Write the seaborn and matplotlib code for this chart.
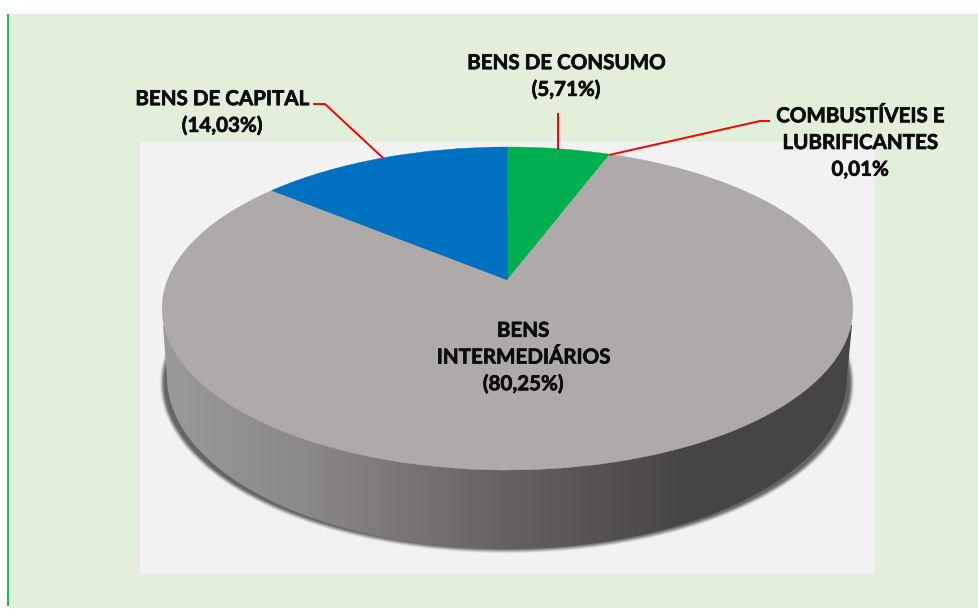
import numpy as np
import matplotlib
matplotlib.use("Agg")
import matplotlib.pyplot as plt
import matplotlib.patheffects as pe
import matplotlib.transforms as mtransforms
from matplotlib.colors import LinearSegmentedColormap, to_rgb
from matplotlib.patches import PathPatch, Rectangle
from matplotlib.path import Path
import seaborn as sns

# ---- data -------------------------------------------------------------
categories = ["BENS DE CONSUMO", "COMBUSTÍVEIS E LUBRIFICANTES",
              "BENS INTERMEDIÁRIOS", "BENS DE CAPITAL"]
values = [5.71, 0.01, 80.25, 14.03]
label_texts = ["BENS DE CONSUMO\n(5,71%)",
               "COMBUSTÍVEIS E\nLUBRIFICANTES\n0,01%",
               "BENS\nINTERMEDIÁRIOS\n(80,25%)",
               "BENS DE CAPITAL\n(14,03%)"]
slice_colors = ["#00B050", "#AEAAAA", "#AEAAAA", "#0070C0"]

# ---- style ------------------------------------------------------------
sns.set_theme(style="white")
plt.rcParams["font.family"] = ["Lato", "DejaVu Sans"]
W, H = 979, 609
fig = plt.figure(figsize=(W / 100, H / 100), dpi=100, facecolor="white")
ax = fig.add_axes([0, 0, 1, 1])


class Perspective(mtransforms.Transform):
    """Tilted-disc projection: unit pie -> perspective ellipse (pixel space)."""
    input_dims = output_dims = 2
    has_inverse = False
    is_separable = False
    cx, cy, d, a, b, c = 507.5, 308.5, 340.0, 161.5, 28.5, 0.1765

    def transform_non_affine(self, v):
        v = np.asarray(v, float)
        den = 1 + self.c * v[:, 1]
        return np.column_stack([self.cx + self.d * v[:, 0] / den,
                                self.cy - (self.a * v[:, 1] + self.b) / den])

    def transform_path_non_affine(self, path):
        return Path(self.transform_non_affine(path.vertices), path.codes)


# ---- panels -----------------------------------------------------------
ax.add_patch(Rectangle((9, 14), W - 9, 594, fc="#E2EFDA", ec="none", zorder=0))
ax.add_patch(Rectangle((140, 142), 735, 432, fc="#F2F2F2", ec="none", zorder=1))
ax.plot([8.3, 8.3], [14, 606], color="#00B050", lw=1.3, zorder=2,
        solid_capstyle="butt")

# ---- soft shadow under the disc --------------------------------------
yy, xx = np.mgrid[0:H, 0:W] + 0.5
sx, sy, srx, sry = 507.0, 383.0, 345.0, 168.0
ux, uy = (xx - sx) / srx, (yy - sy) / sry
rr = np.hypot(ux, uy)
grad = np.hypot(ux / srx, uy / sry) / np.maximum(rr, 1e-6)
dist = (rr - 1) / np.maximum(grad, 1e-6)
t = np.clip((3.0 - dist) / 6.0, 0, 1)
shadow = np.zeros((H, W, 4))
shadow[..., :3] = to_rgb("#555555")
shadow[..., 3] = 0.9 * t * t * (3 - 2 * t)
ax.imshow(shadow, extent=(0, W, H, 0), zorder=3, interpolation="bilinear",
          aspect="auto")

# ---- side wall --------------------------------------------------------
bx, by, brx, bry = 507.0, 377.0, 340.0, 172.0
theta = np.linspace(np.pi, 0, 240)
wall_pts = np.column_stack([bx + brx * np.cos(theta), by + bry * np.sin(theta)])
wall_pts = np.vstack([[163, 325], wall_pts, [852, 325], [163, 325]])
wall = PathPatch(Path(wall_pts), transform=ax.transData, fc="none", ec="none")
ax.add_patch(wall)
x0, x1 = 160.0, 855.0
stops = [(160, "#9C9A99"), (300, "#8C8A89"), (400, "#7A7675"), (500, "#676363"),
         (600, "#565253"), (680, "#484546"), (855, "#474445")]
cmap = LinearSegmentedColormap.from_list(
    "wall", [((x - x0) / (x1 - x0), c) for x, c in stops])
grad_img = np.linspace(0, 1, 512)[None, :]
im = ax.imshow(grad_img, cmap=cmap, vmin=0, vmax=1, extent=(x0, x1, 560, 300),
               zorder=4, aspect="auto")
im.set_clip_path(wall)

# ---- top face: the pie -------------------------------------------------
wedges, _ = ax.pie(values, colors=sns.color_palette(slice_colors),
                   startangle=90, counterclock=False, radius=1.0, center=(0, 0))
persp = Perspective() + ax.transData
for w in wedges:
    w.set_transform(persp)
    w.set_zorder(5)
    w.set_edgecolor(w.get_facecolor())
    w.set_linewidth(0.3)
    w.set_clip_on(False)

# ---- leader lines ------------------------------------------------------
red = "#FF0000"
leaders = [([558.5, 558.5], [113, 150]),
           ([609, 760, 770], [155, 121, 121]),
           ([313, 325, 383], [104, 104, 158])]
for lx, ly in leaders:
    ax.plot(lx, ly, color=red, lw=1.4, zorder=6, solid_capstyle="butt")

# ---- labels ------------------------------------------------------------
label_pos = [(566, 76.5), (860, 143), (523, 357.5), (222, 112.5)]
for txt, (tx, ty) in zip(label_texts, label_pos):
    t_ = ax.text(tx, ty, txt, ha="center", va="center", ma="center", fontsize=14.8,
                 fontweight="bold", color="#0D0D0D", linespacing=1.42, zorder=7)
    t_.set_path_effects([pe.withStroke(linewidth=0.5, foreground="#0D0D0D")])

ax.set_aspect("auto")
ax.set_xlim(0, W)
ax.set_ylim(H, 0)
ax.axis("off")
fig.savefig("out.png", dpi=100, facecolor="white")
